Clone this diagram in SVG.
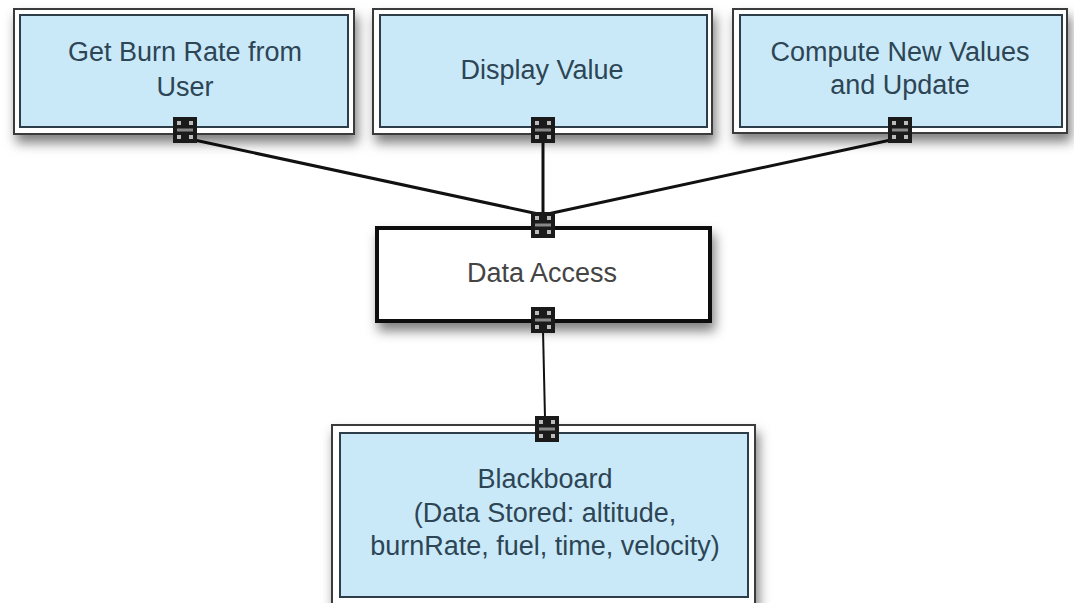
<svg xmlns="http://www.w3.org/2000/svg" xmlns:xlink="http://www.w3.org/1999/xlink" width="1074" height="603" viewBox="0 0 1074 603">
  <defs>
    <filter id="shadow" x="-10%" y="-20%" width="125%" height="150%">
      <feDropShadow dx="3" dy="8" stdDeviation="6" flood-color="#000" flood-opacity="0.5"/>
    </filter>
    <!-- port glyph: dark square with corner dots and a centre bar -->
    <symbol id="port" viewBox="0 0 24 26" width="24" height="26">
      <rect x="0" y="0" width="24" height="26" fill="#1a1a1a"/>
      <rect x="4" y="4" width="4" height="4" fill="#bbb"/>
      <rect x="16" y="4" width="4" height="4" fill="#bbb"/>
      <rect x="4" y="18" width="4" height="4" fill="#bbb"/>
      <rect x="16" y="18" width="4" height="4" fill="#bbb"/>
      <rect x="4" y="11.5" width="16" height="3" fill="#888"/>
    </symbol>
    <style>
      .outer { fill: #fff; stroke: #3a3a3a; stroke-width: 2; }
      .inner { fill: #c9e9f9; stroke: #2e3e48; stroke-width: 2; }
      .plain { fill: #fff; stroke: #111; stroke-width: 4; }
      .label { font-family: "Liberation Sans", Arial, sans-serif; font-size: 27px; fill: #2d4554; text-anchor: middle; }
      .label-gray { font-family: "Liberation Sans", Arial, sans-serif; font-size: 27px; fill: #444; text-anchor: middle; }
      .wire { stroke: #111; stroke-width: 3; fill: none; }
    </style>
  </defs>

  <rect width="1074" height="603" fill="#fff"/>

  <!-- connectors -->
  <g id="connectors">
    <line class="wire" x1="185" y1="138" x2="543" y2="215"/>
    <line class="wire" x1="543" y1="140" x2="543" y2="215"/>
    <line class="wire" x1="900" y1="138" x2="543" y2="215"/>
    <line class="wire" x1="543" y1="330" x2="545" y2="418" style="stroke-width:2"/>
  </g>

  <g id="node-get-burn-rate">
    <rect class="outer" x="14" y="9" width="340" height="125" filter="url(#shadow)"/>
    <rect class="inner" x="20" y="15" width="328" height="112"/>
    <text class="label" x="185" y="61">Get Burn Rate from</text>
    <text class="label" x="185" y="96">User</text>
    <use xlink:href="#port" x="173" y="117"/>
  </g>

  <g id="node-display-value">
    <rect class="outer" x="373" y="9" width="339" height="125" filter="url(#shadow)"/>
    <rect class="inner" x="380" y="15" width="327" height="112"/>
    <text class="label" x="542" y="79">Display Value</text>
    <use xlink:href="#port" x="531" y="117"/>
  </g>

  <g id="node-compute">
    <rect class="outer" x="733" y="9" width="334" height="124" filter="url(#shadow)"/>
    <rect class="inner" x="740" y="15" width="322" height="112"/>
    <text class="label" x="900" y="61">Compute New Values</text>
    <text class="label" x="900" y="94">and Update</text>
    <use xlink:href="#port" x="888" y="117"/>
  </g>

  <g id="node-data-access">
    <rect class="plain" x="377" y="228" width="333" height="93" filter="url(#shadow)"/>
    <text class="label-gray" x="542" y="282">Data Access</text>
    <use xlink:href="#port" x="531" y="212"/>
    <use xlink:href="#port" x="531" y="307"/>
  </g>

  <g id="node-blackboard">
    <rect class="outer" x="332" y="425" width="423" height="185" filter="url(#shadow)"/>
    <rect class="inner" x="340" y="433" width="408" height="164"/>
    <text class="label" x="545" y="488">Blackboard</text>
    <text class="label" x="545" y="522">(Data Stored: altitude,</text>
    <text class="label" x="545" y="555">burnRate, fuel, time, velocity)</text>
    <use xlink:href="#port" x="535" y="416"/>
  </g>
</svg>
